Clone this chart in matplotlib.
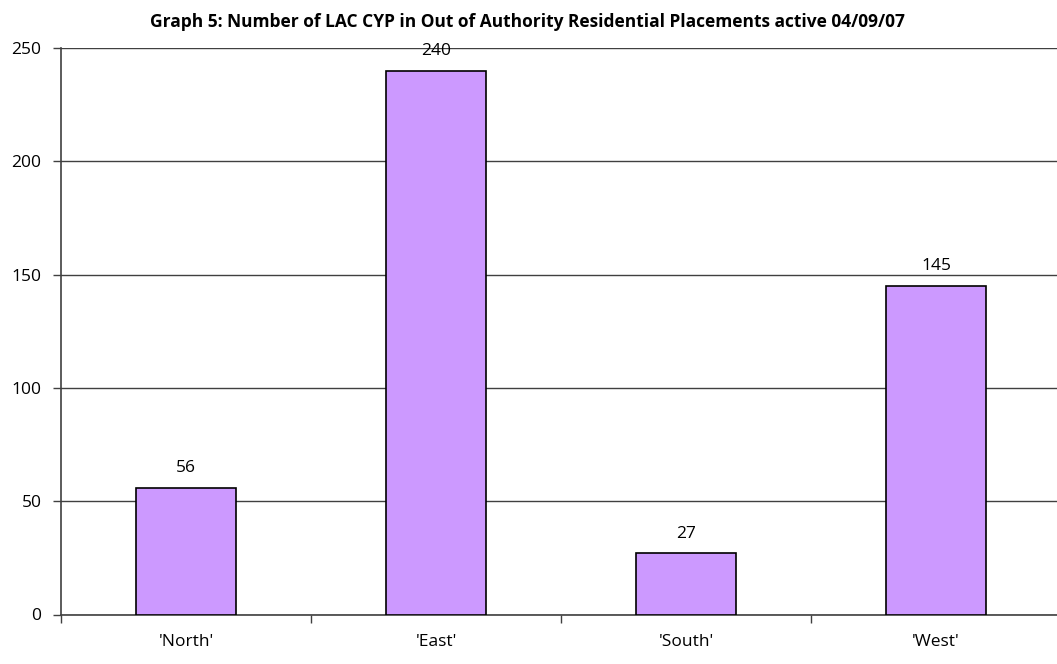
import matplotlib.pyplot as plt
import numpy as np

regions = ["'North'", "'East'", "'South'", "'West'"]
placements = [56, 240, 27, 145]
y_ticks = [0, 50, 100, 150, 200, 250]
title = "Graph 5: Number of LAC CYP in Out of Authority Residential Placements active 04/09/07"

plt.rcParams["font.family"] = ["Open Sans", "DejaVu Sans"]

fig = plt.figure(figsize=(10.57, 6.64), dpi=100)
# axes runs a little past the right edge, like the original export
ax = fig.add_axes([61 / 1057, 49.5 / 664, 1000 / 1057, 566.5 / 664])

x = np.arange(len(regions))
ax.bar(x, placements, width=0.4, color="#CC99FF", edgecolor="black", linewidth=1.2, zorder=3)
for xi, v in zip(x, placements):
    ax.annotate(str(v), (xi, v), xytext=(0, 14), textcoords="offset points",
                ha="center", va="center", fontsize=12.5)

ax.set_xlim(-0.5, len(regions) - 0.5)
ax.set_ylim(0, 250)
ax.set_yticks(y_ticks)
ax.tick_params(axis="y", labelsize=12.5, length=6, width=1, color="#404040", pad=8)
ax.set_xticks(x)
ax.set_xticklabels(regions, fontsize=12.5)
ax.tick_params(axis="x", length=0, pad=14)
ax.set_xticks(np.arange(len(regions) + 1) - 0.5, minor=True)
ax.tick_params(axis="x", which="minor", length=6, width=1, color="#404040")

ax.yaxis.grid(True, color="#404040", linewidth=1)
ax.set_axisbelow(True)
for side in ["top", "right"]:
    ax.spines[side].set_visible(False)
ax.spines["left"].set_color("#404040")
ax.spines["bottom"].set_color("#404040")
ax.spines["left"].set_linewidth(1.2)
ax.spines["bottom"].set_linewidth(1.2)

fig.text(527 / 1057, 1 - 22 / 664, title, ha="center", va="center", fontsize=12.5, fontweight="bold")

fig.savefig("out.png", dpi=100)
